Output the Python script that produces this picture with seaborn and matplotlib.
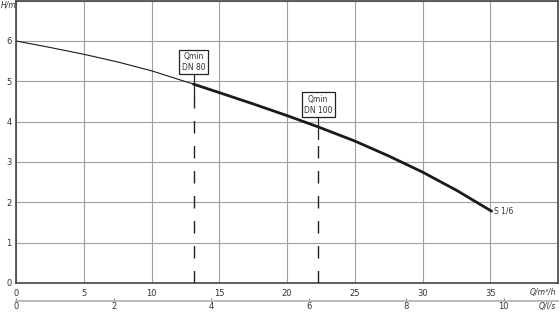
import matplotlib
matplotlib.use("Agg")
import matplotlib.pyplot as plt
import seaborn as sns
import pandas as pd
import numpy as np

# Data
q_m3h = [0, 2.5, 5, 7.5, 10, 13.1, 15, 17.5, 20, 22.3, 25, 27.5, 30, 32.5, 35.1]
h_m = [6.0, 5.84, 5.67, 5.48, 5.26, 4.93, 4.72, 4.44, 4.15, 3.87, 3.52, 3.15, 2.75, 2.30, 1.78]
qmin_pos = [13.1, 22.3]
qmin_labels = ["Qmin\nDN 80", "Qmin\nDN 100"]
qmin_box_h = [5.48, 4.42]
curve_label = "S 1/6"
x_ticks = [0, 5, 10, 15, 20, 25, 30, 35]
y_ticks = [0, 1, 2, 3, 4, 5, 6]
ls_ticks = [0, 2, 4, 6, 8, 10]

sns.set_theme(style="white")
plt.rcParams['font.family'] = ['DejaVu Sans']

df = pd.DataFrame({"Q": q_m3h, "H": h_m})
thin = df[df.Q <= qmin_pos[0]]
thick = df[df.Q >= qmin_pos[0]]

fig = plt.figure(figsize=(5.6, 3.12), dpi=100)
ax = fig.add_axes([16/560, 1 - 283/312, (558 - 16)/560, 283/312 - 0.002])

txt = "#333333"
grid_c = "#a0a0a0"

ax.set_xlim(0, 40)
ax.set_ylim(0, 7)
ax.set_xticks(x_ticks)
ax.set_yticks(y_ticks + [7])
ax.set_yticklabels([str(v) for v in y_ticks] + [""])
ax.grid(True, color=grid_c, lw=0.8)
ax.set_axisbelow(True)
ax.tick_params(axis="both", length=0, labelsize=6, colors=txt, pad=3)
ax.tick_params(axis="x", pad=4)
for s in ax.spines.values():
    s.set_color("#444444")
    s.set_linewidth(1.2)

sns.lineplot(data=thin, x="Q", y="H", ax=ax, color="#1a1a1a", lw=0.8, legend=False)
sns.lineplot(data=thick, x="Q", y="H", ax=ax, color="#1a1a1a", lw=2.0, legend=False)
ax.set_xlabel("")
ax.set_ylabel("")

# Qmin markers
for q, lab, bh in zip(qmin_pos, qmin_labels, qmin_box_h):
    hq = float(np.interp(q, q_m3h, h_m))
    ax.plot([q, q], [0, hq - 0.3], color="#222222", lw=1.0,
            linestyle=(0, (9, 9)), zorder=3)
    ax.plot([q, q], [hq - 0.3, bh - 0.2], color="#222222", lw=0.9, zorder=3)
    ax.text(q, bh, lab, ha="center", va="center", fontsize=5.5, color=txt,
            linespacing=1.3, zorder=5,
            bbox=dict(boxstyle="square,pad=0.3", fc="white", ec="#222222", lw=0.9))

ax.text(q_m3h[-1] + 0.2, h_m[-1], curve_label, ha="left", va="center",
        fontsize=5.5, color=txt)

# axis unit labels
fig.text(0.5/560, 1 - 5/312, "H/m", ha="left", va="center", fontsize=5.5,
         color=txt, style="italic")
fig.text(556/560, 1 - 292/312, "Q/m³/h", ha="right", va="center", fontsize=5.5,
         color=txt, style="italic")
fig.text(556/560, 1 - 306/312, "Q/l/s", ha="right", va="center", fontsize=5.5,
         color=txt, style="italic")

# secondary axis in l/s
sec = ax.secondary_xaxis(-0.062, functions=(lambda x: x / 3.6, lambda x: x * 3.6))
sec.set_xticks(ls_ticks)
sec.tick_params(axis="x", direction="in", length=2, width=0.8, color="#888888",
                labelsize=6, labelcolor=txt, pad=1)
sec.spines["bottom"].set_color("#b0b0b0")
sec.spines["bottom"].set_linewidth(1.2)

fig.savefig("out.png", dpi=100)
